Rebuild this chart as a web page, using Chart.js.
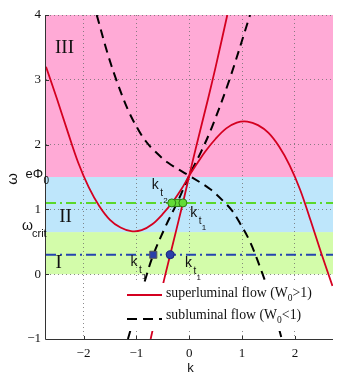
<!DOCTYPE html>
<html><head><meta charset="utf-8">
<script src="https://cdn.jsdelivr.net/npm/chart.js@4.4.1/dist/chart.umd.min.js"></script>
<style>html,body{margin:0;padding:0;background:#fff;}#wrap{width:342px;height:379px;}</style>
</head><body><div id="wrap"><canvas id="c" width="342" height="379"></canvas></div>
<script>
// ---------- data ----------
const kTicks = [-2, -1, 0, 1, 2];
const kTickLabels = ['\u22122', '\u22121', '0', '1', '2'];
const omegaTicks = [-1, 0, 1, 2, 3, 4];
const omegaTickLabels = ['\u22121', '0', '1', '2', '3', '4'];
const ePhi0 = 1.5;
const omegaCrit = 0.65;
const regionNames = ['I', 'II', 'III'];
const regionLow = [0, 0.65, 1.5];
const regionHigh = [0.65, 1.5, 4];

// superluminal flow (W0>1), two branches
const superA_k = [-2.71, -2.5, -2.3, -2.1, -1.9, -1.7, -1.5, -1.3, -1.1, -0.9, -0.7, -0.5, -0.3, -0.15, 0, 0.15, 0.3, 0.5, 0.7, 0.9, 1.1, 1.3, 1.5, 1.7, 1.9, 2.1, 2.3, 2.5, 2.71];
const superA_w = [3.2, 2.7, 2.2, 1.72, 1.34, 1.05, 0.84, 0.72, 0.665, 0.68, 0.77, 0.93, 1.13, 1.31, 1.52, 1.71, 1.89, 2.09, 2.25, 2.34, 2.355, 2.3, 2.18, 1.97, 1.68, 1.3, 0.82, 0.32, -0.18];
const superB_k = [-0.73, -0.5, -0.36, -0.12, 0, 0.12, 0.36, 0.5, 0.72];
const superB_w = [-1.0, -0.17, 0.3, 1.1, 1.52, 1.93, 2.72, 3.2, 4.0];
// subluminal flow (W0<1), two branches
const subC_k = [-1.75, -1.55, -1.38, -1.15, -0.95, -0.81, -0.68, -0.4, 0, 0.4, 0.68, 0.81, 0.95, 1.15, 1.38, 1.55, 1.75];
const subC_w = [4.0, 3.42, 3.0, 2.52, 2.21, 2.04, 1.92, 1.72, 1.52, 1.31, 1.1, 0.98, 0.8, 0.5, 0.02, -0.4, -1.0];
const subD_k = [-1.16, -0.82, -0.68, -0.43, -0.23, 0, 0.23, 0.43, 0.76, 1.15];
const subD_w = [-1.0, -0.05, 0.3, 0.77, 1.1, 1.52, 1.9, 2.27, 3.0, 4.0];

// frequency levels and turning points
const levelGreen = 1.1;
const levelBlue = 0.3;
const greenCircleK = [-0.33, -0.12];
const greenSquareK = [-0.23];
const blueSquareK = [-0.68];
const blueCircleK = [-0.36];

const kMin = -2.71, kMax = 2.72, wMin = -1, wMax = 4;

// ---------- helpers ----------
const pts = (ks, ws) => ks.map((k, i) => ({x: k, y: ws[i]}));
const lvl = (w) => [{x: kMin, y: w}, {x: kMax, y: w}];
const ptsAt = (ks, w) => ks.map(k => ({x: k, y: w}));

const SERIF = '"Liberation Serif", "Times New Roman", serif';
const SANS = '"Liberation Sans", Arial, sans-serif';
const regionColors = ['#d3fcaa', '#bee6fb', '#ffaad6'];

const bandPlugin = {
  id: 'bands',
  beforeDraw(chart) {
    const {ctx, chartArea: a, scales: {y}} = chart;
    ctx.save();
    regionLow.forEach((lo, i) => {
      const yt = y.getPixelForValue(regionHigh[i]);
      const yb = y.getPixelForValue(lo);
      ctx.fillStyle = regionColors[i];
      ctx.fillRect(a.left, yt, a.right - a.left, yb - yt);
    });
    ctx.restore();
  }
};

function drawKt(ctx, x, y, sub) {
  ctx.textBaseline = 'middle';
  ctx.textAlign = 'left';
  ctx.fillStyle = '#111';
  ctx.font = '14px ' + SANS;
  ctx.fillText('k', x, y);
  ctx.font = '10px ' + SANS;
  ctx.fillText('t', x + 8.5, y + 8);
  ctx.font = '8px ' + SANS;
  ctx.fillText(sub, x + 11.5, y + 15);
}

const annotPlugin = {
  id: 'annot',
  afterDraw(chart) {
    const {ctx, chartArea: a, scales: {x, y}} = chart;
    ctx.save();
    // axes (left & bottom)
    ctx.strokeStyle = '#333';
    ctx.lineWidth = 1;
    ctx.beginPath();
    ctx.moveTo(a.left - 0.5, a.top);
    ctx.lineTo(a.left - 0.5, a.bottom + 0.5);
    ctx.lineTo(a.right, a.bottom + 0.5);
    ctx.stroke();
    // inward ticks
    ctx.beginPath();
    kTicks.forEach(k => { const px = Math.round(x.getPixelForValue(k)) + 0.5; ctx.moveTo(px, a.bottom); ctx.lineTo(px, a.bottom - 3); });
    omegaTicks.forEach(w => { const py = Math.round(y.getPixelForValue(w)) + 0.5; ctx.moveTo(a.left, py); ctx.lineTo(a.left + 3, py); });
    ctx.stroke();

    // region labels
    ctx.fillStyle = '#111';
    ctx.font = '19px ' + SERIF;
    ctx.textAlign = 'center';
    ctx.textBaseline = 'middle';
    const regPos = [[-2.47, 0.17], [-2.34, 0.88], [-2.36, 3.49]];
    regionNames.forEach((n, i) => ctx.fillText(n, x.getPixelForValue(regPos[i][0]), y.getPixelForValue(regPos[i][1])));

    // turning point labels
    drawKt(ctx, x.getPixelForValue(-0.71), y.getPixelForValue(1.37), '2');
    drawKt(ctx, x.getPixelForValue(0.02), y.getPixelForValue(0.94), '1');
    drawKt(ctx, x.getPixelForValue(-1.11), y.getPixelForValue(0.185), '1');
    drawKt(ctx, x.getPixelForValue(-0.08), y.getPixelForValue(0.17), '1');

    // special y tick labels
    ctx.fillStyle = '#111';
    ctx.textBaseline = 'middle';
    const yPhi = y.getPixelForValue(ePhi0);
    ctx.font = '13px ' + SANS;
    ctx.textAlign = 'right';
    ctx.fillText('e\u03A6', 43, yPhi - 3);
    ctx.textAlign = 'left';
    ctx.font = '10px ' + SANS;
    ctx.fillText('0', 43.5, yPhi + 4);
    const yCrit = y.getPixelForValue(omegaCrit);
    ctx.font = '14px ' + SANS;
    ctx.fillText('\u03C9', 22, yCrit - 6);
    ctx.font = '11px ' + SANS;
    ctx.fillText('crit', 32, yCrit + 2);

    // axis titles
    ctx.font = '13px ' + SANS;
    ctx.textAlign = 'center';
    ctx.fillText('k', (a.left + a.right) / 2 + 1, 368);
    ctx.save();
    ctx.translate(13, (a.top + a.bottom) / 2 + 2);
    ctx.rotate(-Math.PI / 2);
    ctx.font = '15px ' + SANS;
    ctx.fillText('\u03C9', 0, 0);
    ctx.restore();

    // legend
    ctx.fillStyle = '#fff';
    ctx.fillRect(120, 283, 198, 48);
    ctx.lineWidth = 2;
    ctx.strokeStyle = '#d40020';
    ctx.beginPath(); ctx.moveTo(127, 295); ctx.lineTo(162, 295); ctx.stroke();
    ctx.strokeStyle = '#000';
    ctx.setLineDash([10, 6]);
    ctx.beginPath(); ctx.moveTo(127, 319); ctx.lineTo(162, 319); ctx.stroke();
    ctx.setLineDash([]);
    ctx.fillStyle = '#111';
    ctx.textAlign = 'left';
    ctx.textBaseline = 'alphabetic';
    const legendRows = [['superluminal flow (W', '>1)', 297], ['subluminal flow (W', '<1)', 318.5]];
    legendRows.forEach(([a1, a2, by]) => {
      ctx.font = '13.8px ' + SERIF;
      ctx.fillText(a1, 166, by);
      let w = ctx.measureText(a1).width;
      ctx.font = '9.5px ' + SERIF;
      ctx.fillText('0', 166 + w, by + 4);
      const w2 = ctx.measureText('0').width;
      ctx.font = '13.8px ' + SERIF;
      ctx.fillText(a2, 166 + w + w2, by);
    });
    ctx.restore();
  }
};

const lineDs = (data, color, width, dash, order, tension) => ({
  data, borderColor: color, borderWidth: width, borderDash: dash || [],
  pointRadius: 0, showLine: true, tension: tension || 0, fill: false, order
});
const markDs = (data, style, bg, border, r) => ({
  data, showLine: false, pointStyle: style, pointRadius: r, pointBackgroundColor: bg,
  pointBorderColor: border, pointBorderWidth: 1, order: 0
});

new Chart(document.getElementById('c'), {
  type: 'line',
  data: {
    datasets: [
      lineDs(lvl(levelGreen), '#5ad82a', 2, [10, 4, 2, 4], 9),
      lineDs(lvl(levelBlue), '#2543b0', 2, [10, 4, 2, 4], 9),
      lineDs(pts(subC_k, subC_w), '#000', 2, [9, 6], 6, 0.35),
      lineDs(pts(subD_k, subD_w), '#000', 2, [9, 6], 6, 0.35),
      lineDs(pts(superA_k, superA_w), '#d40020', 1.8, null, 4, 0.35),
      lineDs(pts(superB_k, superB_w), '#d40020', 1.8, null, 4, 0.35),
      markDs(ptsAt(greenCircleK, levelGreen), 'circle', '#62dc36', '#2d7a16', 4),
      markDs(ptsAt(greenSquareK, levelGreen), 'rect', '#62dc36', '#2d7a16', 5),
      markDs(ptsAt(blueSquareK, levelBlue), 'rect', '#2a3fa8', '#555', 5),
      markDs(ptsAt(blueCircleK, levelBlue), 'circle', '#2a3fa8', '#1a237a', 4)
    ]
  },
  options: {
    responsive: false,
    animation: false,
    devicePixelRatio: 1,
    layout: {padding: {left: 0, top: 15, right: 9, bottom: 0}},
    plugins: {legend: {display: false}, tooltip: {enabled: false}},
    scales: {
      x: {
        type: 'linear', min: kMin, max: kMax,
        afterBuildTicks: s => { s.ticks = kTicks.map(v => ({value: v})); },
        afterFit: s => { s.height = 40; },
        grid: {color: 'rgba(110,110,110,0.8)', lineWidth: 1, drawTicks: false},
        border: {display: false, dash: [1, 3]},
        ticks: {padding: 7, color: '#111', font: {family: SERIF, size: 13},
          callback: (v, i) => kTickLabels[i], maxRotation: 0}
      },
      y: {
        type: 'linear', min: wMin, max: wMax,
        afterBuildTicks: s => { s.ticks = omegaTicks.map(v => ({value: v})); },
        afterFit: s => { s.width = 46; },
        grid: {color: 'rgba(110,110,110,0.8)', lineWidth: 1, drawTicks: false},
        border: {display: false, dash: [1, 3]},
        ticks: {padding: 5, color: '#111', font: {family: SERIF, size: 13},
          callback: (v, i) => omegaTickLabels[i]}
      }
    }
  },
  plugins: [bandPlugin, annotPlugin]
});
</script></body></html>
